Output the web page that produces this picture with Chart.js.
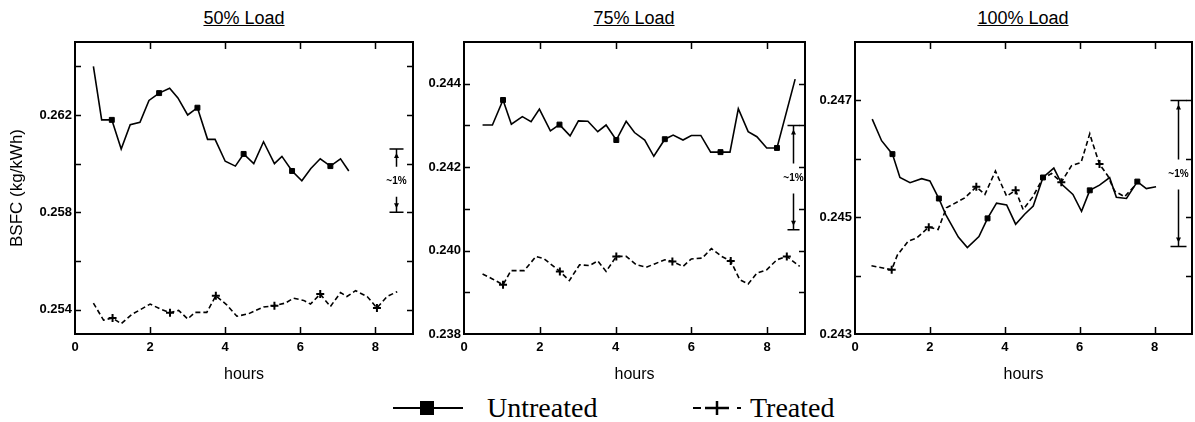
<!DOCTYPE html>
<html>
<head>
<meta charset="utf-8">
<script src="https://cdn.jsdelivr.net/npm/chart.js@4.4.0/dist/chart.umd.min.js"></script>
<style>
body { margin: 0; background: #fff; width: 1195px; height: 422px; position: relative; overflow: hidden; font-family: "Liberation Sans", Arial, sans-serif; }
canvas { position: absolute; top: 0; }
.title { position: absolute; top: 7px; font-size: 18px; line-height: 22px; text-decoration: underline; transform: translateX(-50%); white-space: nowrap; color: #000; }
.legtext { position: absolute; top: 391px; font-family: "Liberation Serif", "Times New Roman", serif; font-size: 28px; line-height: 33px; color: #000; white-space: nowrap; }
svg { position: absolute; }
</style>
</head>
<body>
<div class="title" style="left:244px">50% Load</div>
<div class="title" style="left:634px">75% Load</div>
<div class="title" style="left:1023px">100% Load</div>

<canvas id="c1" width="420" height="390" style="left:0px"></canvas>
<canvas id="c2" width="390" height="390" style="left:420px"></canvas>
<canvas id="c3" width="385" height="390" style="left:810px"></canvas>

<svg style="left:393px;top:398px" width="72" height="20">
  <line x1="0" y1="10" x2="70" y2="10" stroke="#000" stroke-width="2"/>
  <rect x="27" y="3" width="14" height="14" fill="#000"/>
</svg>
<div class="legtext" style="left:487px">Untreated</div>
<svg style="left:692px;top:398px" width="52" height="20">
  <line x1="1" y1="10" x2="9" y2="10" stroke="#000" stroke-width="2"/>
  <line x1="13" y1="10" x2="37" y2="10" stroke="#000" stroke-width="2.5"/>
  <line x1="25" y1="3" x2="25" y2="17" stroke="#000" stroke-width="2.5"/>
  <line x1="45" y1="10" x2="49" y2="10" stroke="#000" stroke-width="2"/>
</svg>
<div class="legtext" style="left:750px">Treated</div>

<script>
// ---- 50% load ----
var load50UntreatedHours = [0.49,0.71,0.98,1.23,1.47,1.73,1.97,2.24,2.52,2.74,3.0,3.26,3.53,3.73,4.0,4.27,4.49,4.76,5.02,5.31,5.51,5.78,6.04,6.28,6.53,6.8,7.07,7.29];
var load50Untreated = [0.2640,0.2618,0.2618,0.2606,0.2616,0.2617,0.2626,0.2629,0.2631,0.2627,0.2620,0.2623,0.2610,0.2610,0.2601,0.2599,0.2604,0.2600,0.2609,0.2600,0.2603,0.2597,0.2593,0.2598,0.2602,0.2599,0.2602,0.2597];
var load50UntreatedMarks = [0.98,2.24,3.26,4.49,5.78,6.8];
var load50TreatedHours = [0.49,0.76,1.0,1.23,1.51,2.0,2.27,2.53,2.76,3.0,3.2,3.51,3.75,4.04,4.31,4.62,5.02,5.31,5.6,5.82,6.09,6.27,6.53,6.8,7.07,7.24,7.47,7.78,8.04,8.31,8.58];
var load50Treated = [0.25427,0.25357,0.25366,0.25342,0.25380,0.25423,0.25403,0.25387,0.25397,0.25362,0.25389,0.25389,0.25457,0.25420,0.25373,0.25383,0.25411,0.25416,0.25427,0.25447,0.25438,0.25423,0.25464,0.25413,0.25470,0.25454,0.25478,0.25454,0.25407,0.25454,0.25474];
var load50TreatedMarks = [1.0,2.53,3.75,5.31,6.53,8.04];
var load50YTicks = [0.254,0.256,0.258,0.260,0.262,0.264];
var load50YLabels = [0.254,0.258,0.262];
var load50Range = [0.253,0.265];
var load50Bar = [8.56,0.2606,0.2580];

// ---- 75% load ----
var load75UntreatedHours = [0.49,0.75,1.03,1.25,1.54,1.77,1.99,2.28,2.52,2.80,3.02,3.27,3.53,3.75,4.02,4.28,4.50,4.77,5.01,5.30,5.52,5.78,6.0,6.25,6.51,6.77,7.02,7.24,7.5,7.73,7.99,8.26,8.74];
var load75Untreated = [0.24301,0.24301,0.24361,0.24303,0.24321,0.24309,0.24339,0.24287,0.24302,0.24275,0.24311,0.24310,0.24285,0.24301,0.24265,0.24310,0.24283,0.24265,0.24226,0.24267,0.24277,0.24265,0.24276,0.24276,0.24236,0.24236,0.24236,0.24340,0.24285,0.24273,0.24246,0.24246,0.24411];
var load75UntreatedMarks = [1.03,2.52,4.02,5.30,6.77,8.26];
var load75TreatedHours = [0.49,0.75,1.03,1.24,1.59,1.90,2.12,2.53,2.78,3.05,3.31,3.53,3.75,4.02,4.28,4.55,4.81,5.03,5.3,5.50,5.78,6.0,6.29,6.53,6.8,7.04,7.28,7.5,7.73,7.99,8.26,8.52,8.86];
var load75Treated = [0.23944,0.23932,0.23918,0.23952,0.23952,0.23986,0.23980,0.23950,0.23928,0.23966,0.23964,0.23975,0.23950,0.23986,0.23986,0.23966,0.23960,0.23968,0.23978,0.23974,0.23962,0.23980,0.23982,0.24005,0.23986,0.23975,0.23930,0.23920,0.23946,0.23954,0.23978,0.23986,0.23962];
var load75TreatedMarks = [1.03,2.53,4.02,5.50,7.04,8.52];
var load75YTicks = [0.238,0.239,0.240,0.241,0.242,0.243,0.244];
var load75YLabels = [0.238,0.240,0.242,0.244];
var load75Range = [0.238,0.245];
var load75Bar = [8.68,0.2430,0.2405];

// ---- 100% load ----
var load100UntreatedHours = [0.46,0.71,1.0,1.2,1.47,1.78,2.0,2.24,2.42,2.76,3.0,3.31,3.54,3.78,4.05,4.29,4.53,4.76,5.02,5.31,5.53,5.82,6.05,6.27,6.53,6.8,6.98,7.25,7.54,7.78,8.04];
var load100Untreated = [0.24668,0.24631,0.24608,0.24568,0.24559,0.24566,0.24562,0.24532,0.24505,0.24466,0.24448,0.24467,0.24498,0.24524,0.24521,0.24488,0.24505,0.24519,0.24568,0.24584,0.24556,0.24539,0.24510,0.24546,0.24555,0.24568,0.24534,0.24532,0.24561,0.24549,0.24552];
var load100UntreatedMarks = [1.0,2.24,3.54,5.02,6.27,7.54];
var load100TreatedHours = [0.44,0.98,1.13,1.42,1.64,1.97,2.22,2.44,2.93,3.24,3.47,3.75,4.05,4.29,4.49,4.75,5.0,5.25,5.51,5.78,6.04,6.27,6.34,6.53,6.75,6.93,7.2,7.5];
var load100Treated = [0.24417,0.24410,0.24435,0.24459,0.24464,0.24483,0.24479,0.24516,0.24533,0.24552,0.24539,0.24579,0.24536,0.24546,0.24513,0.24535,0.24565,0.24575,0.24560,0.24588,0.24594,0.24643,0.24628,0.24591,0.24571,0.24545,0.24535,0.24556];
var load100TreatedMarks = [0.98,1.97,3.24,4.29,5.51,6.53];
var load100YTicks = [0.243,0.244,0.245,0.246,0.247,0.248];
var load100YLabels = [0.243,0.245,0.247];
var load100Range = [0.243,0.248];
var load100Bar = [8.63,0.2470,0.2445];

var hourTicks = [0,2,4,6,8];
var barText = "~1%";

function pts(xs, ys) {
    var out = [];
    for (var i = 0; i < xs.length; i++) {
        out.push({ x: xs[i], y: ys[i] });
    }
    return out;
}

// box, inward ticks and the ~1% bar
var framePlugin = {
    id: 'frame',
    afterDraw: function (chart, args, opts) {
        var ctx = chart.ctx, a = chart.chartArea;
        var xs = chart.scales.x, ys = chart.scales.y;
        ctx.save();
        ctx.strokeStyle = '#000';
        ctx.fillStyle = '#000';
        ctx.lineWidth = 1.5;
        ctx.beginPath();
        xs.ticks.forEach(function (t) {
            if (t.value <= xs.min || t.value >= xs.max) return;
            var px = Math.round(xs.getPixelForValue(t.value)) + 0.5;
            ctx.moveTo(px, a.top); ctx.lineTo(px, a.top + 7);
            ctx.moveTo(px, a.bottom); ctx.lineTo(px, a.bottom - 7);
        });
        ys.ticks.forEach(function (t) {
            if (t.value <= ys.min || t.value >= ys.max) return;
            var py = Math.round(ys.getPixelForValue(t.value)) + 0.5;
            ctx.moveTo(a.left, py); ctx.lineTo(a.left + 6, py);
            ctx.moveTo(a.right, py); ctx.lineTo(a.right - 6, py);
        });
        ctx.stroke();
        ctx.lineWidth = 2;
        ctx.strokeRect(a.left, a.top, a.right - a.left, a.bottom - a.top);

        var b = opts.bar;
        var bx = Math.round(xs.getPixelForValue(b[0])) + 0.5;
        var top = ys.getPixelForValue(b[1]);
        var bot = ys.getPixelForValue(b[2]);
        var mid = (top + bot) / 2;
        var cw = opts.cap;
        ctx.lineWidth = 1.5;
        ctx.beginPath();
        ctx.moveTo(bx - cw, top); ctx.lineTo(bx + cw, top);
        ctx.moveTo(bx - cw, bot); ctx.lineTo(bx + cw, bot);
        ctx.moveTo(bx, top); ctx.lineTo(bx, mid - 14);
        ctx.moveTo(bx, mid + 16); ctx.lineTo(bx, bot);
        ctx.stroke();
        ctx.beginPath();
        ctx.moveTo(bx, top + 4); ctx.lineTo(bx - 2.5, top + 9); ctx.lineTo(bx + 2.5, top + 9);
        ctx.closePath();
        ctx.moveTo(bx, bot - 4); ctx.lineTo(bx - 2.5, bot - 9); ctx.lineTo(bx + 2.5, bot - 9);
        ctx.closePath();
        ctx.fill();
        ctx.font = 'bold 10px "Liberation Sans", Arial, sans-serif';
        ctx.textAlign = 'center';
        ctx.textBaseline = 'middle';
        ctx.fillText(barText, bx, mid + 1);
        ctx.restore();
    }
};

var tickFont = { family: '"Liberation Sans", Arial, sans-serif', size: 13, weight: 'bold' };

function makePanel(id, set, yTicks, yLabels, range, bar, opt) {
    var datasets = [
        {
            label: 'Untreated',
            data: pts(set.uh, set.u),
            borderColor: '#000',
            borderWidth: 1.6,
            pointStyle: 'rect',
            pointBackgroundColor: '#000',
            pointBorderColor: '#000',
            pointBorderWidth: 1,
            pointRadius: function (c) { return set.um.indexOf(c.raw.x) >= 0 ? 3.5 : 0; },
            tension: 0
        },
        {
            label: 'Treated',
            data: pts(set.th, set.t),
            borderColor: '#000',
            borderWidth: 1.6,
            borderDash: [5, 3],
            pointStyle: 'cross',
            pointBorderColor: '#000',
            pointBorderWidth: 2,
            pointRadius: function (c) { return set.tm.indexOf(c.raw.x) >= 0 ? 4 : 0; },
            tension: 0
        }
    ];
    return new Chart(document.getElementById(id), {
        type: 'line',
        data: { datasets: datasets },
        options: {
            responsive: false,
            animation: false,
            devicePixelRatio: 1,
            layout: { padding: { top: 42, right: opt.padRight, left: 0, bottom: 0 } },
            plugins: {
                legend: { display: false },
                tooltip: { enabled: false },
                frame: { bar: bar, cap: opt.cap }
            },
            scales: {
                x: {
                    type: 'linear',
                    min: 0, max: 9,
                    afterBuildTicks: function (s) { s.ticks = hourTicks.map(function (v) { return { value: v }; }); },
                    afterFit: function (s) { s.height = 56; },
                    grid: { display: false, drawTicks: false },
                    border: { display: false },
                    ticks: { font: tickFont, color: '#000', padding: 6, maxRotation: 0 },
                    title: { display: true, text: 'hours', color: '#000', font: { family: '"Liberation Sans", Arial, sans-serif', size: 16 }, padding: { top: 0, bottom: 6 } }
                },
                y: {
                    type: 'linear',
                    min: range[0], max: range[1],
                    afterBuildTicks: function (s) { s.ticks = yTicks.map(function (v) { return { value: v }; }); },
                    afterFit: function (s) { s.width = opt.yWidth; },
                    grid: { display: false, drawTicks: false },
                    border: { display: false },
                    ticks: {
                        font: tickFont, color: '#000', padding: 3,
                        callback: function (v) { return yLabels.indexOf(v) >= 0 ? v.toFixed(3) : ''; }
                    },
                    title: { display: !!opt.yTitle, text: opt.yTitle || '', color: '#000', font: { family: '"Liberation Sans", Arial, sans-serif', size: 17 }, padding: { top: 7, bottom: 0 } }
                }
            }
        },
        plugins: [framePlugin]
    });
}

makePanel('c1', { uh: load50UntreatedHours, u: load50Untreated, um: load50UntreatedMarks, th: load50TreatedHours, t: load50Treated, tm: load50TreatedMarks },
    load50YTicks, load50YLabels, load50Range, load50Bar, { padRight: 7, yWidth: 75, cap: 7, yTitle: 'BSFC (kg/kWh)' });
makePanel('c2', { uh: load75UntreatedHours, u: load75Untreated, um: load75UntreatedMarks, th: load75TreatedHours, t: load75Treated, tm: load75TreatedMarks },
    load75YTicks, load75YLabels, load75Range, load75Bar, { padRight: 5, yWidth: 44, cap: 6 });
makePanel('c3', { uh: load100UntreatedHours, u: load100Untreated, um: load100UntreatedMarks, th: load100TreatedHours, t: load100Treated, tm: load100TreatedMarks },
    load100YTicks, load100YLabels, load100Range, load100Bar, { padRight: 3, yWidth: 45, cap: 8 });
</script>
</body>
</html>
